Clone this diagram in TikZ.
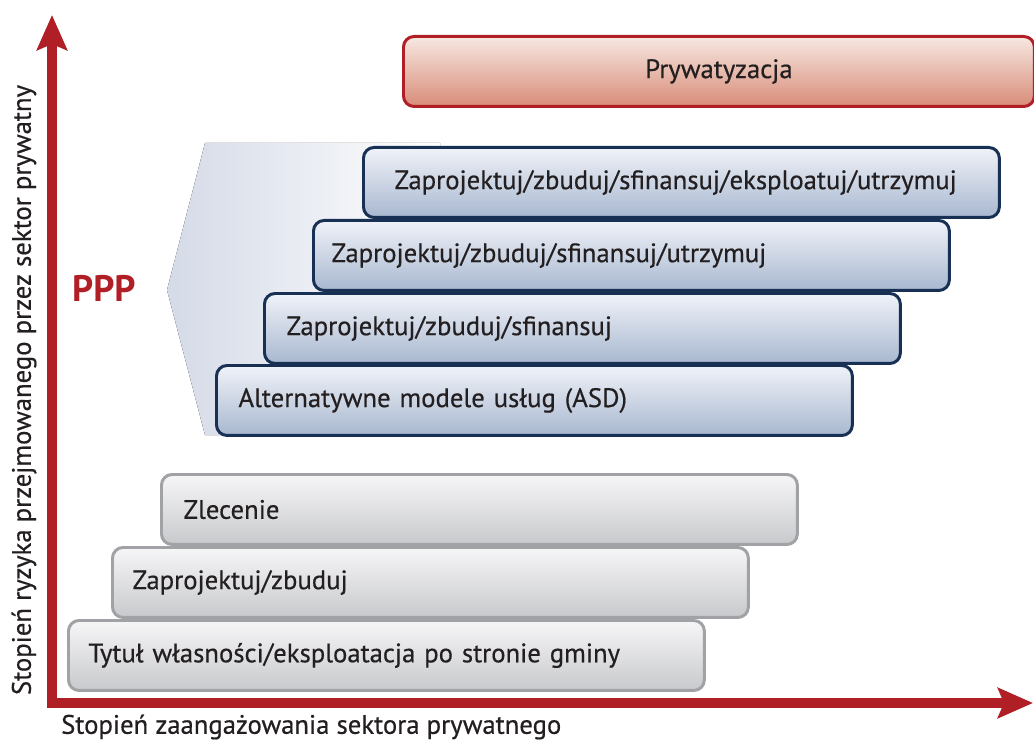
\documentclass[tikz,border=0pt]{standalone}
\usepackage{fontspec}
\setmainfont{PT Sans}
\newfontfamily\medfont{PT Sans}[FakeBold=0.5]
\usetikzlibrary{arrows.meta}
\definecolor{axisred}{RGB}{176,30,38}
\definecolor{navy}{RGB}{24,48,84}
\definecolor{bluetop}{RGB}{240,242,248}
\definecolor{bluebot}{RGB}{168,184,208}
\definecolor{greyline}{RGB}{160,162,166}
\definecolor{greytop}{RGB}{246,246,247}
\definecolor{greybot}{RGB}{200,201,204}
\definecolor{redtop}{RGB}{247,232,226}
\definecolor{redbot}{RGB}{216,140,120}
\definecolor{pppshade}{RGB}{212,218,231}
\definecolor{inktext}{RGB}{35,31,32}
\begin{document}
\begin{tikzpicture}[x=0.02cm,y=-0.02cm,
  every node/.style={font=\medfont\fontsize{15.2}{17}\selectfont, text=inktext},
  stage/.style={anchor=north west, rounded corners=6pt, line width=1.7pt,
    minimum height=1.4cm, inner xsep=0.44cm, text width=11.84cm, align=left},
  pppbox/.style={stage, draw=navy, top color=bluetop, bottom color=bluebot},
  basebox/.style={stage, draw=greyline, top color=greytop, bottom color=greybot},
  axis/.style={draw=axisred, line width=5.5pt,
    {Stealth[length=0.7cm,width=0.6cm,inset=0.12cm]}-{Stealth[length=0.7cm,width=0.6cm,inset=0.12cm]}}]
\useasboundingbox (0,0) rectangle (1034,743);
\fill[left color=pppshade, right color=white] (205,143) -- (440,143) -- (440,435) -- (205,435) -- (167,290) -- cycle;
\node[stage, draw=axisred, top color=redtop, bottom color=redbot, text width=12.62cm, inner xsep=0cm, align=center] (priv) at (402,35) {Prywatyzacja};
\node[pppbox, inner xsep=0.62cm, text width=11.48cm] (dbfom) at (362,146) {Zaprojektuj/zbuduj/sfinansuj/eksploatuj/utrzymuj};
\node[pppbox, inner xsep=0.36cm, text width=12cm] (dbfm) at (312,219) {Zaprojektuj/zbuduj/sfinansuj/utrzymuj};
\node[pppbox] (dbf) at (263,292) {Zaprojektuj/zbuduj/sfinansuj};
\node[pppbox] (asd) at (215,364) {Alternatywne modele usług (ASD)};
\node[basebox] (contract) at (160,473) {Zlecenie};
\node[basebox, inner xsep=0.4cm, text width=11.92cm] (db) at (111,546) {Zaprojektuj/zbuduj};
\node[basebox, inner xsep=0.4cm, text width=11.92cm] (own) at (67,619) {Tytuł własności/eksploatacja po stronie gminy};
\node[anchor=west, text=axisred, font=\fontsize{21}{23}\bfseries] (ppp) at (66,288) {PPP};
\coordinate (O) at (52,703);
\coordinate (ytip) at (52,15);
\coordinate (xtip) at (1033,703);
\draw[axis] (ytip) -- (O) -- (xtip);
\node[rotate=90] (ylab) at (24,390) {Stopień ryzyka przejmowanego przez sektor prywatny};
\node[anchor=west] (xlab) at (55,727) {Stopień zaangażowania sektora prywatnego};
\end{tikzpicture}
\end{document}
